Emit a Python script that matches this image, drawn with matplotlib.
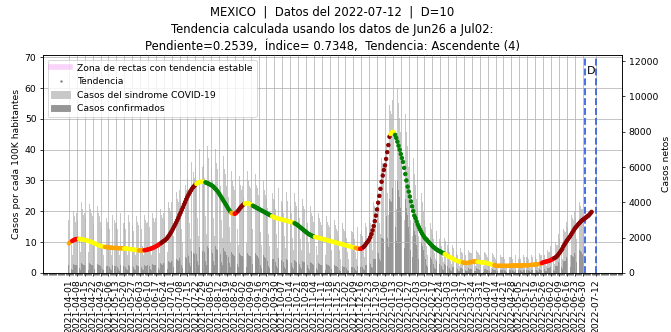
import pandas as pd
import matplotlib
matplotlib.use("Agg")
import matplotlib.pyplot as plt
import matplotlib.dates as mdates
from matplotlib.lines import Line2D
from matplotlib.patches import Patch

# Tendencia (casos por cada 100K habitantes), un valor por dia, por mes
tend_2021_04 = [9.6, 9.9, 10.2, 10.4, 10.6, 10.8, 10.9, 11.0, 11.0, 11.0, 11.0, 10.9, 10.9, 10.8, 10.7,
                10.6, 10.5, 10.4, 10.3, 10.2, 10.0, 9.9, 9.7, 9.5, 9.4, 9.2, 9.0, 8.9, 8.8, 8.7]
tend_2021_05 = [8.6, 8.5, 8.4, 8.4, 8.3, 8.3, 8.2, 8.2, 8.2, 8.1, 8.1, 8.1, 8.1, 8.1, 8.0, 8.0,
                8.0, 8.0, 8.0, 7.9, 7.9, 7.9, 7.8, 7.8, 7.7, 7.7, 7.6, 7.6, 7.5, 7.5, 7.4]
tend_2021_06 = [7.4, 7.3, 7.3, 7.3, 7.3, 7.3, 7.4, 7.4, 7.5, 7.6, 7.7, 7.8, 7.9, 8.1, 8.2,
                8.4, 8.6, 8.8, 9.0, 9.3, 9.5, 9.8, 10.1, 10.3, 10.6, 10.9, 11.3, 11.8, 12.3, 12.9]
tend_2021_07 = [13.5, 14.2, 14.9, 15.6, 16.3, 17.1, 17.9, 18.8, 19.6, 20.5, 21.3, 22.2, 23.0, 23.9, 24.7,
                25.4, 26.1, 26.7, 27.3, 27.8, 28.2, 28.6, 28.9, 29.2, 29.4, 29.5, 29.6, 29.6, 29.6, 29.5, 29.4]
tend_2021_08 = [29.2, 29.1, 28.9, 28.7, 28.5, 28.3, 28.0, 27.6, 27.2, 26.8, 26.3, 25.8, 25.2, 24.6, 24.0,
                23.4, 22.8, 22.2, 21.6, 21.0, 20.4, 19.9, 19.5, 19.2, 19.1, 19.2, 19.4, 19.8, 20.2, 20.7, 21.2]
tend_2021_09 = [21.6, 22.0, 22.3, 22.5, 22.6, 22.6, 22.5, 22.4, 22.2, 22.0, 21.8, 21.6, 21.4, 21.2, 21.0,
                20.8, 20.6, 20.4, 20.2, 20.0, 19.8, 19.6, 19.4, 19.2, 19.0, 18.8, 18.6, 18.4, 18.2, 18.0]
tend_2021_10 = [17.9, 17.8, 17.7, 17.6, 17.5, 17.4, 17.3, 17.2, 17.1, 17.0, 16.9, 16.8, 16.7, 16.6, 16.5,
                16.4, 16.3, 16.1, 15.9, 15.7, 15.4, 15.1, 14.8, 14.5, 14.2, 13.9, 13.6, 13.3, 13.0, 12.7, 12.5]
tend_2021_11 = [12.3, 12.1, 11.9, 11.8, 11.7, 11.6, 11.5, 11.4, 11.3, 11.2, 11.1, 11.0, 10.9, 10.8, 10.7,
                10.6, 10.5, 10.4, 10.3, 10.2, 10.1, 10.0, 9.9, 9.8, 9.7, 9.6, 9.5, 9.4, 9.3, 9.2]
tend_2021_12 = [9.1, 9.0, 8.9, 8.8, 8.7, 8.6, 8.5, 8.4, 8.3, 8.2, 8.1, 8.0, 7.9, 7.8, 7.8, 7.9,
                8.1, 8.4, 8.8, 9.3, 9.8, 10.3, 10.8, 11.6, 12.6, 13.8, 15.2, 16.8, 18.6, 20.6, 22.8]
tend_2022_01 = [25.0, 27.3, 29.6, 31.6, 33.4, 34.9, 37.0, 39.2, 41.5, 44.2, 45.1, 45.6, 45.8, 45.5, 44.8,
                43.8, 42.6, 41.3, 40.0, 38.6, 37.3, 36.0, 34.1, 32.1, 30.0, 28.0, 26.4, 24.8, 23.2, 21.6, 20.1]
tend_2022_02 = [18.6, 17.8, 16.7, 15.7, 14.9, 14.1, 13.4, 12.7, 12.1, 11.5, 11.1, 10.8, 10.3, 9.9,
                9.5, 9.1, 8.7, 8.4, 8.1, 7.8, 7.5, 7.3, 7.1, 6.9, 6.7, 6.5, 6.3, 6.1]
tend_2022_03 = [5.9, 5.6, 5.4, 5.2, 5.0, 4.8, 4.6, 4.4, 4.2, 4.0, 3.9, 3.8, 3.7, 3.6, 3.5, 3.4,
                3.3, 3.3, 3.2, 3.2, 3.3, 3.4, 3.5, 3.6, 3.7, 3.7, 3.7, 3.7, 3.6, 3.6, 3.5]
tend_2022_04 = [3.5, 3.4, 3.4, 3.3, 3.3, 3.2, 3.1, 3.0, 2.9, 2.8, 2.7, 2.6, 2.5, 2.4, 2.3,
                2.3, 2.3, 2.3, 2.3, 2.3, 2.3, 2.3, 2.3, 2.3, 2.3, 2.3, 2.3, 2.4, 2.4, 2.4]
tend_2022_05 = [2.4, 2.4, 2.4, 2.4, 2.4, 2.4, 2.4, 2.4, 2.5, 2.5, 2.5, 2.5, 2.5, 2.5, 2.6, 2.6,
                2.6, 2.7, 2.7, 2.8, 2.8, 2.9, 2.9, 3.0, 3.2, 3.4, 3.5, 3.6, 3.7, 3.8, 3.9]
tend_2022_06 = [4.0, 4.2, 4.4, 4.6, 4.8, 5.0, 5.3, 5.7, 6.2, 6.7, 7.2, 7.8, 8.6, 9.2, 9.8,
                10.4, 10.9, 11.4, 11.9, 12.5, 13.1, 13.7, 14.3, 14.8, 15.2, 15.7, 16.1, 16.5, 16.9, 17.2]
tend_2022_07 = [17.4, 17.7, 18.0, 18.3, 18.5, 18.9, 19.3, 19.8]

meses = [("2021-04-01", tend_2021_04), ("2021-05-01", tend_2021_05), ("2021-06-01", tend_2021_06),
         ("2021-07-01", tend_2021_07), ("2021-08-01", tend_2021_08), ("2021-09-01", tend_2021_09),
         ("2021-10-01", tend_2021_10), ("2021-11-01", tend_2021_11), ("2021-12-01", tend_2021_12),
         ("2022-01-01", tend_2022_01), ("2022-02-01", tend_2022_02), ("2022-03-01", tend_2022_03),
         ("2022-04-01", tend_2022_04), ("2022-05-01", tend_2022_05), ("2022-06-01", tend_2022_06),
         ("2022-07-01", tend_2022_07)]

# Color de la tendencia por tramos (fecha de inicio de cada tramo)
tramo_inicio = ["2021-04-01", "2021-04-04", "2021-04-10", "2021-05-03", "2021-05-20", "2021-06-02",
                "2021-06-07", "2021-06-22", "2021-07-23", "2021-07-31", "2021-08-23", "2021-08-26",
                "2021-08-29", "2021-09-04", "2021-09-11", "2021-09-28", "2021-10-18", "2021-11-05",
                "2021-12-11", "2021-12-15", "2021-12-18", "2022-01-11", "2022-01-15", "2022-02-28",
                "2022-03-16", "2022-03-29", "2022-04-13", "2022-05-25", "2022-06-05"]
tramo_color = ["orange", "red", "yellow", "orange", "yellow", "orange",
               "red", "darkred", "yellow", "green", "orange", "red",
               "darkred", "yellow", "green", "yellow", "green", "yellow",
               "orange", "red", "darkred", "yellow", "green", "yellow",
               "orange", "yellow", "orange", "red", "darkred"]

# Casos netos diarios (en cientos), una fila por semana desde 2021-04-01
sindrome_sem = [
    [30, 26, 16, 10, 35, 32, 29], [34, 30, 18, 12, 40, 36, 33], [34, 31, 18, 12, 39, 36, 34],
    [32, 28, 17, 11, 38, 34, 32], [29, 26, 15, 10, 34, 31, 29], [28, 25, 15, 10, 33, 30, 28],
    [29, 25, 15, 10, 34, 31, 28], [28, 25, 15, 10, 33, 29, 28], [27, 24, 14, 10, 32, 29, 27],
    [28, 25, 15, 10, 33, 30, 28], [29, 26, 15, 10, 34, 31, 29], [31, 27, 16, 11, 36, 33, 31],
    [34, 30, 18, 12, 40, 37, 35], [40, 35, 21, 14, 46, 42, 40], [47, 41, 25, 17, 55, 50, 47],
    [54, 47, 28, 19, 63, 57, 54], [60, 52, 31, 21, 70, 63, 60], [61, 54, 32, 22, 72, 65, 61],
    [60, 52, 31, 21, 70, 62, 59], [56, 49, 30, 20, 66, 59, 56], [49, 43, 26, 17, 58, 52, 49],
    [47, 41, 25, 16, 55, 50, 47], [49, 43, 26, 17, 58, 52, 49], [48, 42, 25, 17, 56, 50, 48],
    [44, 39, 23, 16, 52, 47, 44], [42, 37, 22, 15, 50, 45, 42], [41, 36, 22, 14, 48, 43, 41],
    [39, 34, 21, 14, 46, 41, 39], [38, 34, 20, 13, 45, 40, 38], [36, 31, 19, 13, 42, 38, 36],
    [32, 28, 17, 11, 38, 34, 32], [29, 25, 15, 10, 34, 31, 29], [27, 24, 14, 10, 32, 29, 27],
    [26, 22, 13, 9, 30, 27, 25], [24, 21, 13, 8, 28, 25, 24], [23, 20, 12, 8, 27, 24, 23],
    [22, 19, 12, 8, 26, 23, 22], [24, 21, 13, 9, 28, 26, 25], [30, 28, 18, 13, 40, 38, 37],
    [45, 40, 28, 22, 65, 62, 60], [80, 72, 45, 33, 95, 92, 90], [98, 88, 52, 36, 105, 96, 88],
    [80, 70, 42, 30, 90, 80, 72], [60, 52, 30, 21, 65, 56, 50], [42, 36, 21, 14, 45, 40, 35],
    [30, 26, 15, 10, 32, 28, 25], [22, 19, 11, 8, 24, 21, 19], [17, 15, 9, 6, 20, 18, 16],
    [14, 12, 7, 5, 16, 14, 13], [12, 10, 6, 4, 14, 12, 11], [11, 10, 6, 4, 13, 12, 11],
    [11, 10, 6, 4, 13, 12, 11], [10, 9, 5, 4, 12, 11, 10], [9, 8, 5, 3, 11, 10, 9],
    [8, 7, 4, 3, 10, 9, 9], [9, 8, 5, 3, 10, 9, 9], [9, 8, 5, 3, 10, 9, 8],
    [9, 8, 5, 3, 10, 9, 9], [9, 8, 5, 3, 10, 9, 9], [9, 8, 5, 3, 11, 10, 10],
    [11, 10, 6, 4, 13, 12, 12], [15, 13, 8, 5, 17, 16, 16], [22, 19, 12, 8, 25, 24, 23],
    [29, 26, 15, 10, 33, 31, 30], [35, 31, 19, 13, 40, 38, 36], [36, 32]]

confirmados_sem = [
    [4.2, 3.8, 2.2, 1.5, 5.0, 4.5, 4.2], [4.7, 4.1, 2.5, 1.6, 5.5, 5.0, 4.7], [4.7, 4.1, 2.5, 1.6, 5.5, 4.9, 4.6],
    [4.2, 3.8, 2.2, 1.5, 5.0, 4.5, 4.2], [3.8, 3.4, 2.0, 1.4, 4.5, 4.0, 3.8], [3.8, 3.4, 2.0, 1.4, 4.5, 4.1, 3.8],
    [3.9, 3.4, 2.0, 1.3, 4.5, 4.0, 3.8], [3.8, 3.3, 2.0, 1.4, 4.5, 4.1, 3.9], [3.8, 3.4, 2.0, 1.4, 4.5, 4.0, 3.8],
    [3.8, 3.4, 2.0, 1.4, 4.5, 4.1, 3.9], [4.3, 3.8, 2.3, 1.5, 5.0, 4.5, 4.3], [4.7, 4.1, 2.5, 1.7, 5.5, 5.0, 4.7],
    [5.5, 4.9, 2.9, 2.0, 6.5, 5.9, 5.6], [6.8, 6.0, 3.6, 2.4, 8.0, 7.2, 6.8], [8.5, 7.5, 4.5, 3.0, 10.0, 9.0, 8.5],
    [10.6, 9.4, 5.6, 3.8, 12.5, 11.3, 10.6], [12.3, 10.9, 6.5, 4.4, 14.5, 13.1, 12.3],
    [13.2, 11.6, 7.0, 4.7, 15.5, 14.0, 13.2], [12.8, 11.3, 6.8, 4.5, 15.0, 13.5, 12.8],
    [11.9, 10.5, 6.3, 4.2, 14.0, 12.6, 11.9], [10.2, 9.0, 5.4, 3.6, 12.0, 10.8, 10.2],
    [9.4, 8.3, 5.0, 3.3, 11.0, 9.9, 9.4], [9.8, 8.6, 5.2, 3.5, 11.5, 10.4, 9.8], [9.4, 8.3, 5.0, 3.3, 11.0, 9.9, 9.4],
    [8.5, 7.5, 4.5, 3.0, 10.0, 9.0, 8.5], [7.7, 6.8, 4.1, 2.7, 9.0, 8.1, 7.7], [7.2, 6.4, 3.8, 2.6, 8.5, 7.7, 7.2],
    [6.8, 6.0, 3.6, 2.4, 8.0, 7.2, 6.8], [6.4, 5.6, 3.4, 2.3, 7.5, 6.8, 6.4], [6.0, 5.3, 3.2, 2.1, 7.0, 6.3, 6.0],
    [5.1, 4.5, 2.7, 1.8, 6.0, 5.4, 5.1], [4.7, 4.1, 2.5, 1.7, 5.5, 5.0, 4.7], [4.3, 3.8, 2.3, 1.5, 5.0, 4.5, 4.3],
    [3.8, 3.4, 2.0, 1.4, 4.5, 4.1, 3.8], [3.4, 3.0, 1.8, 1.2, 4.0, 3.6, 3.4], [3.4, 3.0, 1.8, 1.2, 4.0, 3.6, 3.4],
    [3.4, 3.0, 1.8, 1.2, 4.0, 3.6, 3.4], [3.8, 3.4, 2.0, 1.4, 4.5, 4.3, 4.2], [5.5, 5.2, 3.4, 2.6, 8.0, 7.8, 7.6],
    [12.0, 11.5, 8.0, 6.5, 20.0, 19.5, 19.0], [35.0, 32.0, 20.0, 14.5, 42.0, 41.0, 40.0],
    [48.0, 43.0, 26.0, 18.0, 52.0, 47.0, 43.0], [37.0, 32.0, 19.5, 14.0, 42.0, 37.0, 33.0],
    [26.0, 22.0, 13.0, 9.0, 28.0, 24.0, 21.5], [16.0, 13.5, 8.0, 5.3, 17.0, 15.0, 13.2],
    [9.4, 8.1, 4.7, 3.1, 10.0, 8.8, 7.8], [6.0, 5.1, 3.0, 2.1, 6.5, 5.7, 5.1], [4.3, 3.8, 2.3, 1.5, 5.0, 4.5, 4.0],
    [3.0, 2.6, 1.6, 1.1, 3.5, 3.1, 2.9], [2.6, 2.2, 1.3, 0.9, 3.0, 2.6, 2.4], [2.1, 1.9, 1.1, 0.8, 2.5, 2.3, 2.1],
    [2.1, 1.9, 1.1, 0.8, 2.5, 2.3, 2.1], [1.9, 1.7, 1.0, 0.7, 2.2, 2.0, 1.9], [1.7, 1.5, 0.9, 0.6, 2.0, 1.8, 1.7],
    [1.4, 1.2, 0.8, 0.5, 1.8, 1.6, 1.6], [1.5, 1.4, 0.8, 0.5, 1.8, 1.6, 1.5], [1.5, 1.4, 0.8, 0.5, 1.8, 1.6, 1.5],
    [1.5, 1.4, 0.8, 0.5, 1.8, 1.6, 1.5], [1.5, 1.4, 0.8, 0.5, 1.8, 1.6, 1.6], [1.7, 1.5, 0.9, 0.6, 2.0, 1.9, 1.8],
    [2.4, 2.1, 1.3, 0.9, 2.8, 2.6, 2.6], [3.5, 3.1, 1.9, 1.3, 4.0, 3.8, 3.7], [6.1, 5.4, 3.3, 2.2, 7.0, 6.7, 6.5],
    [8.8, 7.8, 4.7, 3.2, 10.0, 9.5, 9.1], [11.4, 10.1, 6.1, 4.1, 13.0, 12.4, 11.8], [10.5, 9.4]]

# Zona de rectas con tendencia estable (al final de la serie)
zona_fechas = ["2022-07-01", "2022-07-05"]
zona_valores = [17.5, 18.6]

fecha_ini, fecha_fin = "2022-07-02", "2022-07-12"

# armar series diarias
t_fechas, t_valores = [], []
for inicio, vals in meses:
    t_fechas += list(pd.date_range(inicio, periods=len(vals), freq="D"))
    t_valores += vals
tend = pd.Series(t_valores, index=pd.DatetimeIndex(t_fechas))
cortes = pd.to_datetime(tramo_inicio)
idx = cortes.searchsorted(tend.index, side="right") - 1
colores = [tramo_color[i] for i in idx]

b_fechas, sindrome, confirmados = [], [], []
for k, (fila_s, fila_c) in enumerate(zip(sindrome_sem, confirmados_sem)):
    inicio = pd.Timestamp("2021-04-01") + pd.Timedelta(days=7 * k)
    b_fechas += list(pd.date_range(inicio, periods=len(fila_s), freq="D"))
    sindrome += [v * 100 for v in fila_s]
    confirmados += [v * 100 for v in fila_c]

fig = plt.figure(figsize=(10, 4.948), dpi=67.1)
ax1 = fig.add_axes([0.064, 0.178, 0.863, 0.656])
ax2 = ax1.twinx()
ax1.set_zorder(ax2.get_zorder() + 1)
ax1.patch.set_visible(False)

ax2.bar(b_fechas, sindrome, width=0.8, color="#c8c8c8")
ax2.bar(b_fechas, confirmados, width=0.8, color="#969696")
ax2.set_ylim(0, 12340)
ax2.set_ylabel("Casos netos")

ax1.plot(pd.to_datetime(zona_fechas), zona_valores, color="violet", alpha=0.35, lw=6, solid_capstyle="butt")
ax1.scatter(tend.index, tend.values, c=colores, s=14, zorder=3)

for f in [fecha_ini, fecha_fin]:
    ax1.axvline(pd.Timestamp(f), color="royalblue", ls="--", lw=2)
ax1.text(pd.Timestamp("2022-07-04"), 65.5, "D", fontsize=12, va="center")

ticks = list(pd.date_range("2021-04-01", "2022-06-30", freq="7D")) + [pd.Timestamp(fecha_fin)]
ax1.set_xticks(ticks)
ax1.xaxis.set_major_formatter(mdates.DateFormatter("%Y-%m-%d"))
ax1.xaxis.set_minor_locator(mdates.DayLocator())
plt.setp(ax1.get_xticklabels(), rotation=90)
ax1.set_xlim(pd.Timestamp("2021-03-09"), pd.Timestamp("2022-08-04"))
ax1.set_ylim(0, 70.7)
ax1.grid(True)
ax1.set_ylabel("Casos por cada 100K habitantes")

handles = [Line2D([], [], color="violet", alpha=0.35, lw=6),
           Line2D([], [], marker=".", color="gray", ls="none", markersize=3),
           Patch(color="#c8c8c8"), Patch(color="#969696")]
ax1.legend(handles, ["Zona de rectas con tendencia estable", "Tendencia",
                     "Casos del sindrome COVID-19", "Casos confirmados"], loc="upper left")

ax1.set_title("MEXICO  |  Datos del 2022-07-12  |  D=10\n"
              "Tendencia calculada usando los datos de Jun26 a Jul02:\n"
              "Pendiente=0.2539,  Índice= 0.7348,  Tendencia: Ascendente (4)",
              fontsize=12.5, linespacing=1.4)

fig.savefig("out.png", dpi=67.1)
